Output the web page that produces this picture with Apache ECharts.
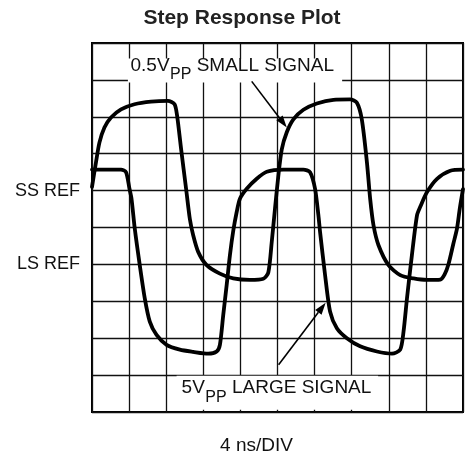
<!DOCTYPE html>
<html>
<head>
<meta charset="utf-8">
<script src="https://cdn.jsdelivr.net/npm/echarts@6/dist/echarts.min.js"></script>
<style>
  html, body { margin: 0; padding: 0; background: #ffffff; }
  #chart { width: 467px; height: 460px; }
</style>
</head>
<body>
<div id="chart"></div>
<script>
// Horizontal scale: ns (4 ns per division). Vertical scale: screen divisions (0 = bottom).
const ssTime = [0, 0.43, 0.80, 1.34, 2.05, 3.13, 4.58, 6.37, 8.18, 8.90, 9.18, 9.61, 10.15, 10.55, 10.91, 11.45,
  12.36, 13.79, 15.23, 17.03, 18.47, 19.01, 19.38, 19.73, 20.09, 20.46, 21.00, 21.71, 22.79, 24.24, 26.03,
  27.83, 28.56, 29.09, 29.64, 29.99, 30.35, 30.89, 31.97, 33.23, 34.67, 36.12, 37.55, 38.02, 38.45, 38.96,
  39.35, 39.65, 40];
const ssLevel = [6.10, 6.77, 7.30, 7.71, 7.98, 8.20, 8.34, 8.41, 8.43, 8.34, 8.02, 7.12, 6.04, 5.23, 4.79, 4.34,
  3.98, 3.75, 3.62, 3.58, 3.61, 3.78, 4.61, 5.51, 6.40, 7.12, 7.58, 7.93, 8.19, 8.36, 8.46,
  8.47, 8.38, 7.93, 6.77, 5.78, 5.06, 4.52, 3.98, 3.71, 3.62, 3.58, 3.59, 3.73, 4.02, 4.56,
  4.97, 5.51, 6.04];

const lsTime = [0, 3.13, 3.67, 4.04, 4.26, 4.61, 5.15, 5.69, 6.23, 6.96, 8.04, 9.47, 10.91, 12.53, 13.44, 13.79,
  14.15, 14.52, 14.87, 15.23, 15.60, 15.95, 16.68, 17.76, 18.84, 20.63, 22.79, 23.51, 24.05, 24.41, 24.59,
  25.13, 25.67, 26.40, 27.48, 28.91, 30.72, 32.34, 33.23, 33.59, 33.96, 34.49, 35.04, 35.39, 36.12, 37.20,
  38.63, 40];
const lsLevel = [6.57, 6.57, 6.50, 6.05, 5.78, 4.97, 3.98, 3.08, 2.45, 2.09, 1.82, 1.69, 1.63, 1.58, 1.64, 1.82,
  2.63, 3.44, 4.25, 4.91, 5.42, 5.78, 6.05, 6.32, 6.51, 6.57, 6.57, 6.50, 6.05, 5.33, 4.88,
  3.71, 2.72, 2.27, 2.00, 1.78, 1.64, 1.58, 1.69, 2.18, 3.08, 4.25, 5.33, 5.56, 5.96, 6.32,
  6.54, 6.57];

// Reference levels named on the left edge
const refTicks = [4, 6];
const refLabels = ['LS REF', 'SS REF'];

const titleText = 'Step Response Plot';
const timebaseText = '4 ns/DIV';

const FONT = '"Liberation Sans", Arial, Helvetica, sans-serif';
const INK = '#111111';

const chart = echarts.init(document.getElementById('chart'), null, { renderer: 'canvas' });

const pairs = (xs, ys) => xs.map((x, i) => [x, ys[i]]);

const traceStyle = {
  type: 'line',
  showSymbol: false,
  smooth: 0.25,
  z: 5,
  lineStyle: { color: '#000000', width: 3.8, cap: 'round', join: 'round' }
};

chart.setOption({
  animation: false,
  backgroundColor: '#ffffff',
  title: {
    text: titleText,
    left: 237,
    textAlign: 'center',
    top: 3,
    textStyle: { fontFamily: FONT, fontSize: 21, fontWeight: 'bold', color: '#222222' }
  },
  grid: {
    left: 92, right: 4, top: 43, bottom: 46,
    show: true, borderColor: '#000000', borderWidth: 2, backgroundColor: 'transparent'
  },
  xAxis: {
    type: 'value', min: 0, max: 40, interval: 4,
    axisLine: { show: false }, axisTick: { show: false }, axisLabel: { show: false },
    splitLine: { show: true, lineStyle: { color: '#111111', width: 1.3 } },
    name: timebaseText,
    nameLocation: 'middle',
    nameGap: 24,
    nameTextStyle: { fontFamily: FONT, fontSize: 19, color: INK, padding: [0, 42, 0, 0] }
  },
  yAxis: {
    type: 'value', min: 0, max: 10, interval: 1,
    axisLine: { show: false }, axisTick: { show: false },
    axisLabel: {
      margin: 12,
      fontFamily: FONT, fontSize: 18, color: INK,
      formatter: (v) => {
        const i = refTicks.indexOf(v);
        return i >= 0 ? refLabels[i] : '';
      }
    },
    splitLine: { show: true, lineStyle: { color: '#111111', width: 1.3 } }
  },
  series: [
    Object.assign({ name: '0.5Vpp small signal', data: pairs(ssTime, ssLevel) }, traceStyle),
    Object.assign({ name: '5Vpp large signal', data: pairs(lsTime, lsLevel) }, traceStyle)
  ]
});

// --- callouts: white label boxes, text with PP subscript, pointer arrows ---
const px = (x, y) => chart.convertToPixel({ gridIndex: 0 }, [x, y]);
const measureCtx = document.createElement('canvas').getContext('2d');
const textWidth = (s, size) => { measureCtx.font = size + 'px ' + FONT; return measureCtx.measureText(s).width; };

function labelBox(x0, y0, x1, y1) {
  const a = px(x0, y1), b = px(x1, y0);
  return { type: 'rect', z: 20, shape: { x: a[0], y: a[1], width: b[0] - a[0], height: b[1] - a[1] },
           style: { fill: '#ffffff' } };
}

function calloutText(lead, tail, x, y) {
  const p = px(x, y);
  const main = 19, sub = 16, drop = 9;
  const w1 = textWidth(lead, main);
  const w2 = textWidth('PP', sub);
  const common = { fill: INK, verticalAlign: 'middle', align: 'left' };
  return [
    { type: 'text', z: 30, x: p[0], y: p[1], style: Object.assign({ text: lead, font: main + 'px ' + FONT }, common) },
    { type: 'text', z: 30, x: p[0] + w1 + 0.5, y: p[1] + drop, style: Object.assign({ text: 'PP', font: sub + 'px ' + FONT }, common) },
    { type: 'text', z: 30, x: p[0] + w1 + w2 + 0.5, y: p[1], style: Object.assign({ text: tail, font: main + 'px ' + FONT }, common) }
  ];
}

function arrow(fromX, fromY, toX, toY) {
  const a = px(fromX, fromY), b = px(toX, toY);
  const dx = b[0] - a[0], dy = b[1] - a[1];
  const len = Math.hypot(dx, dy);
  const ux = dx / len, uy = dy / len;
  const headLen = 12, half = 4;
  const bx = b[0] - ux * headLen, by = b[1] - uy * headLen;
  return [
    { type: 'line', z: 30, shape: { x1: a[0], y1: a[1], x2: bx, y2: by }, style: { stroke: '#000000', lineWidth: 1.6 } },
    { type: 'polygon', z: 30, shape: { points: [[b[0], b[1]], [bx - uy * half, by + ux * half], [bx + uy * half, by - ux * half]] },
      style: { fill: '#000000' } }
  ];
}

const graphics = [].concat(
  [labelBox(3.87, 8.93, 26.97, 9.58)],
  calloutText('0.5V', ' SMALL SIGNAL', 4.15, 9.38),
  arrow(17.22, 8.96, 21.0, 7.71),
  [labelBox(9.12, 0.06, 30.85, 0.98)],
  calloutText('5V', ' LARGE SIGNAL', 9.66, 0.647),
  arrow(20.12, 1.28, 25.19, 2.96)
);

chart.setOption({ graphic: graphics });
</script>
</body>
</html>
